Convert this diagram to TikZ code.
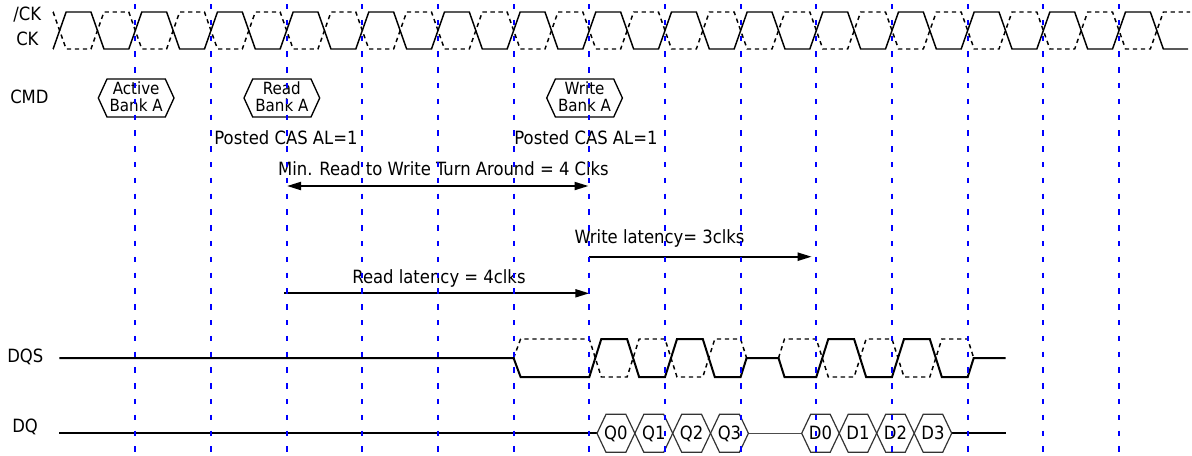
\documentclass[tikz,border=0pt]{standalone}
\usepackage{fontspec}
\setmainfont{DejaVu Sans Condensed}
\usetikzlibrary{arrows.meta}

\tikzset{
  clk/.style={line width=1.1pt, black},
  sig/.style={line width=1.5pt, black},
  cdash/.style={dash pattern=on 3.2pt off 2.8pt},
  clkgrid/.style={blue, line width=1.5pt, dash pattern=on 4.1pt off 7.75pt},
  lat/.style={line width=1.5pt},
  hexbox/.style={line width=0.9pt, black!80},
  cmdhex/.style={line width=1pt, black},
  cmdtxt/.style={align=center, font=\fontsize{12.6}{12.8}\selectfont},
  lbl/.style={anchor=base},
}

\begin{document}
\begin{tikzpicture}[x=0.75pt, y=-0.75pt, >={Triangle[length=10.5pt,width=6pt]},
    every node/.style={font=\fontsize{13.7}{11.6}\selectfont, inner sep=0pt}]
  \useasboundingbox (0,0) rectangle (1192,455);

  % signal names
  \node[anchor=base west] (ckb) at (13,20.5) {/CK};
  \node[anchor=base west] (ck) at (16,45.7) {CK};
  \node[anchor=base west] (cmd) at (10,103) {CMD};
  \node[anchor=base west] (dqs) at (7,362) {DQS};
  \node[anchor=base west] (dq) at (12,432) {DQ};

  % CK (solid) and /CK (dashed)
  \draw[clk] (53.1,49) \foreach \k in {-1,...,13} {
      -- ({135.3+\k*75.67-6.5},49) -- ({135.3+\k*75.67+6.5},12)
      -- ({135.3+\k*75.67+31.33},12) -- ({135.3+\k*75.67+44.33},49) } -- (1188,49);
  \draw[clk, cdash] (53.1,12) \foreach \k in {-1,...,13} {
      -- ({135.3+\k*75.67-6.5},12) -- ({135.3+\k*75.67+6.5},49)
      -- ({135.3+\k*75.67+31.33},49) -- ({135.3+\k*75.67+44.33},12) } -- (1190,12);

  % commands
  \foreach \x/\nm/\txt in {98.3/act/Active, 244/rd/Read, 546.7/wr/Write} {
    \draw[cmdhex] (\x,98) -- ++(8.7,-19) -- ++(58.3,0) -- ++(8.7,19)
      -- ++(-8.7,19) -- ++(-58.3,0) -- cycle;
    \node[cmdtxt] (\nm) at ({\x+37.85},97) {\txt\\Bank A};
  }

  % timing labels
  \node[lbl] (pcas1) at (286,144) {Posted CAS AL=1};
  \node[lbl] (pcas2) at (586,144) {Posted CAS AL=1};
  \node[lbl] (turn) at (443.5,175) {Min. Read to Write Turn Around = 4 Clks};
  \node[lbl] (wlat) at (659.5,243) {Write latency= 3clks};
  \node[lbl] (rlat) at (439,283) {Read latency = 4clks};

  % latency arrows
  \coordinate (turn-a) at (287,186);
  \coordinate (turn-b) at (588.5,186);
  \coordinate (wlat-a) at (589.3,256.7);
  \coordinate (wlat-b) at (811.7,256.7);
  \coordinate (rlat-a) at (284,293.3);
  \coordinate (rlat-b) at (589.3,293.3);
  \draw[lat, <->] (turn-a) -- (turn-b);
  \draw[lat, ->] (wlat-a) -- (wlat-b);
  \draw[lat, ->] (rlat-a) -- (rlat-b);

  % DQS
  \draw[sig] (59.3,358) -- (513.6,358) -- (520.6,377) -- (589.3,377) -- (601.3,339)
    -- (627.1,339) -- (639.1,377) -- (665,377) -- (677,339) -- (702.8,339)
    -- (714.8,377) -- (740.6,377) -- (746.6,358) -- (778.5,358) -- (784.5,377)
    -- (816.3,377) -- (828.3,339) -- (854.1,339) -- (866.1,377) -- (892,377)
    -- (904,339) -- (929.8,339) -- (941.8,377) -- (967.7,377) -- (973.7,358)
    -- (1005.7,358);
  \draw[clk, cdash] (513.6,358) -- (520.6,339) -- (589.3,339) -- (601.3,377)
    -- (627.1,377) -- (639.1,339) -- (665,339) -- (677,377) -- (702.8,377)
    -- (714.8,339) -- (740.6,339) -- (746.6,358);
  \draw[clk, cdash] (778.5,358) -- (784.5,339) -- (816.3,339) -- (828.3,377)
    -- (854.1,377) -- (866.1,339) -- (892,339) -- (904,377) -- (929.8,377)
    -- (941.8,339) -- (967.7,339) -- (973.7,358);

  % DQ
  \draw[sig] (59.3,433.3) -- (597,433.3);
  \draw[line width=0.8pt, black!70] (748.4,433.3) -- (801.7,433.3);
  \draw[sig] (951.7,433.3) -- (1005.7,433.3);
  \foreach \lbl [count=\i from 0] in {Q0,Q1,Q2,Q3} {
    \draw[hexbox] ({597+\i*37.85},433.3) -- ++(9,-19) -- ++(19.85,0) -- ++(9,19)
      -- ++(-9,19) -- ++(-19.85,0) -- cycle;
    \node[lbl] (\lbl) at ({597+\i*37.85+18.93},439) {\lbl};
  }
  \foreach \lbl [count=\i from 0] in {D0,D1,D2,D3} {
    \draw[hexbox] ({801.7+\i*37.5},433.3) -- ++(9,-19) -- ++(19.5,0) -- ++(9,19)
      -- ++(-9,19) -- ++(-19.5,0) -- cycle;
    \node[lbl] (\lbl) at ({801.7+\i*37.5+18.75},439) {\lbl};
  }

  % clock grid
  \foreach \k in {0,...,13}
    \draw[clkgrid] ({135.3+\k*75.67},4) -- ({135.3+\k*75.67},455);
\end{tikzpicture}
\end{document}
